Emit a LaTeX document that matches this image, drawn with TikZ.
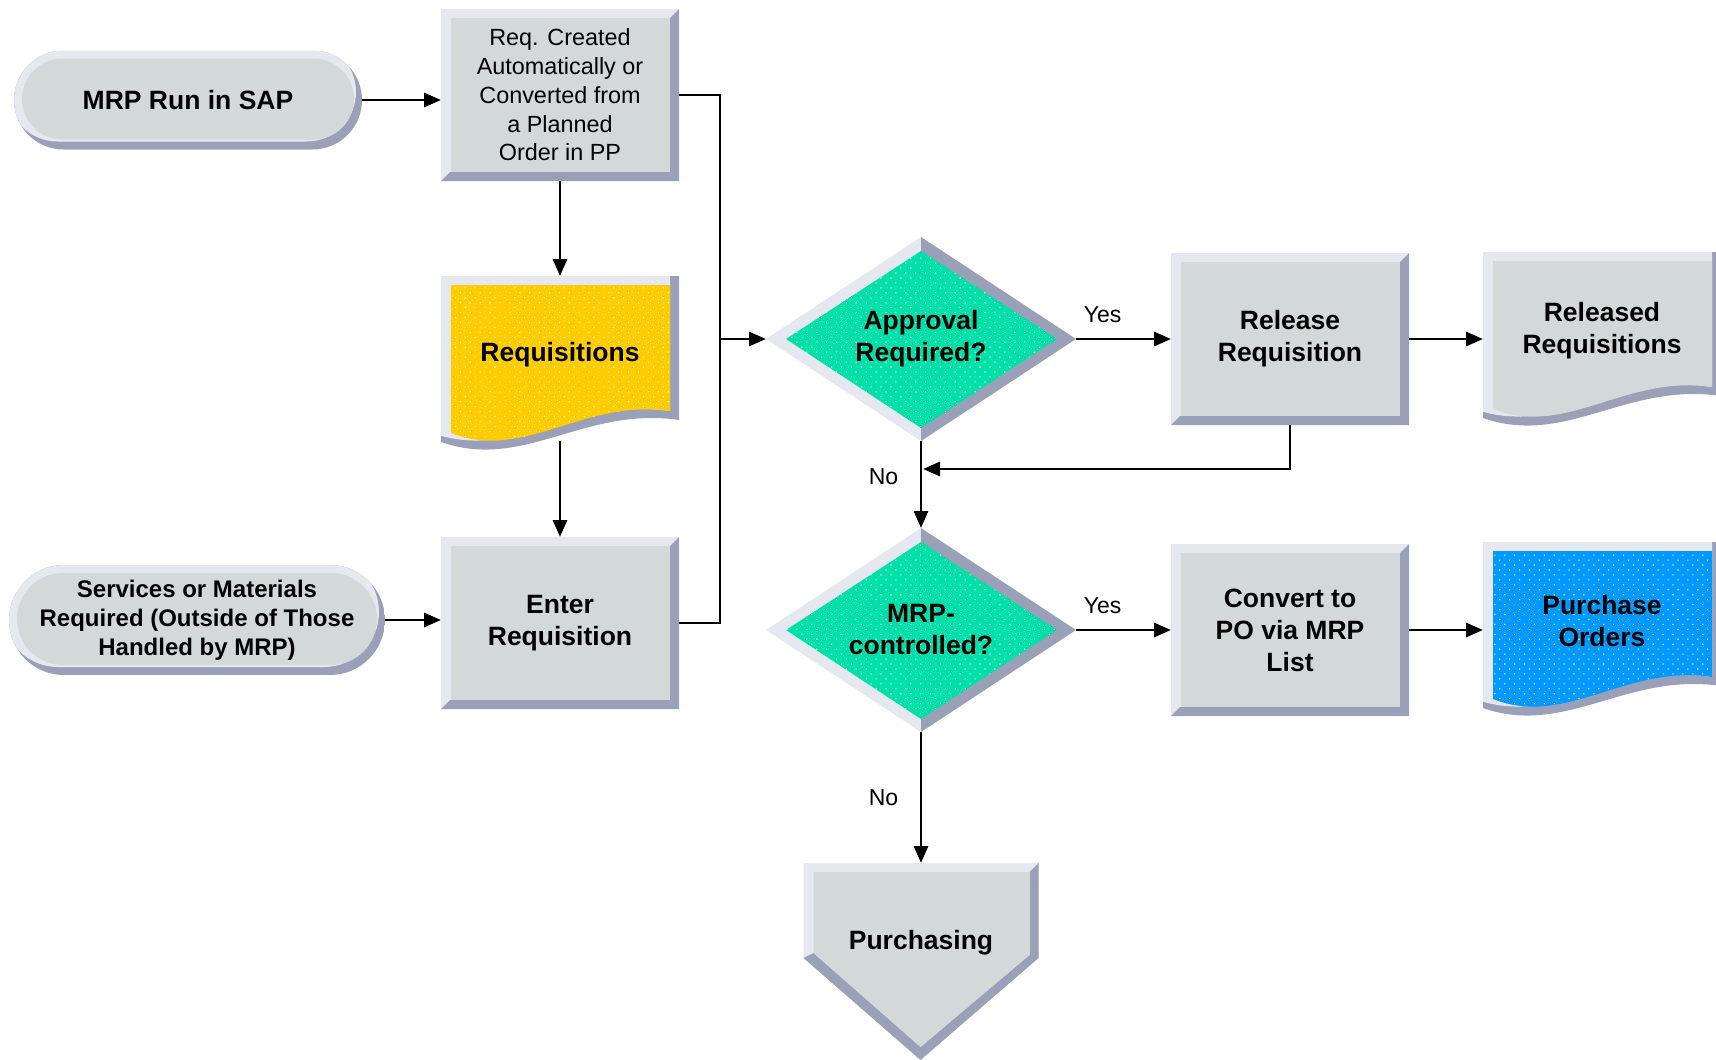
\documentclass[tikz,border=0pt]{standalone}
\usepackage{fontspec}
\setmainfont{Liberation Sans}
\usetikzlibrary{backgrounds,arrows.meta,positioning,patterns.meta}

\definecolor{bvlite}{HTML}{E6E8F0}
\definecolor{bvdark}{HTML}{9AA0B8}
\definecolor{facegray}{HTML}{D3D9D9}
\definecolor{reqyellow}{HTML}{FFCC00}
\definecolor{decgreen}{HTML}{00E0A8}
\definecolor{poblue}{HTML}{0099FF}

\tikzset{
	block/.style={
		rectangle,
		inner sep=0pt, outer sep=0pt,
		align=center,
		text centered,
	},
	box/.style={block, minimum width=238pt, minimum height=172pt},
	docnode/.style={block, minimum width=238pt, minimum height=158pt},
	decision/.style={block, minimum width=310pt, minimum height=204pt},
	greyface/.style={fill=facegray},
	dotface/.style={fill=#1, postaction={pattern={Dots[distance=7pt,angle=45,radius=0.8pt]}, pattern color=white}},
	conn/.style={line width=2.9pt},
	flow/.style={conn, -{Triangle[length=17pt,width=14pt]}},
	lbl/.style={font=\fontsize{23}{28}\selectfont},
	docpath/.style={insert path={(0,0) -- (238,0) -- (238,144) .. controls (143,130) and (83,195) .. (0,166) -- cycle}},
}

% bevelled shapes, drawn round the named nodes
\newcommand{\bevelbox}[4]{%
	\begin{scope}[shift={(#1.north west)}]
		\fill[bvlite] (0,0) rectangle (#2,#3);
		\fill[bvdark] (#2,0) -- (#2,#3) -- (0,#3) -- (9,#3-9) -- (#2-9,#3-9) -- (#2-9,9) -- cycle;
		\fill[#4] (10,9) rectangle (#2-9,#3-9);
	\end{scope}}
\newcommand{\bevelpill}[3]{%
	\begin{scope}[shift={(#1.north west)}]
		\begin{scope}
			\clip[rounded corners=#3/2] (0,0) rectangle (#2,#3);
			\fill[bvdark] (0,0) rectangle (#2,#3);
			\fill[bvlite, rounded corners=#3/2] (-6,-8) rectangle (#2-6,#3-8);
		\end{scope}
		\fill[greyface, rounded corners=#3/2-9] (8,8) rectangle (#2-8,#3-10);
	\end{scope}}
\newcommand{\beveldoc}[2]{%
	\begin{scope}[shift={(#1.north west)}]
		\begin{scope}
			\clip[docpath];
			\fill[bvdark, docpath];
			\fill[bvlite, shift={(-9,-9)}, docpath];
		\end{scope}
		\fill[#2] (10,9) -- (229,9) -- (229,135) .. controls (143,122) and (83,186) .. (10,157) -- cycle;
	\end{scope}}
\newcommand{\beveldia}[2]{%
	\begin{scope}[shift={(#1.north west)}]
		\fill[bvlite] (0,102) -- (155,0) -- (155,204) -- cycle;
		\fill[bvdark] (155,0) -- (310,102) -- (155,204) -- cycle;
		\fill[#2] (155,14) -- (291,102) -- (155,191) -- (20,102) -- cycle;
	\end{scope}}
\newcommand{\bevelpent}[2]{%
	\begin{scope}[shift={(#1.north west)}]
		\fill[bvlite] (0,0) -- (235,0) -- (235,95) -- (117,197) -- (0,95) -- cycle;
		\fill[bvdark] (235,0) -- (235,95) -- (117,197) -- (0,95) -- (10,90) -- (117,184) -- (226,92) -- (226,9) -- cycle;
		\fill[#2] (10,9) -- (226,9) -- (226,92) -- (117,184) -- (10,90) -- cycle;
	\end{scope}}

\begin{document}
\begin{tikzpicture}[x=1pt, y=-1pt, font=\fontsize{26.5}{32}\selectfont\bfseries]
\useasboundingbox (0,0) rectangle (1716,1060);

\node	(mrp)		[block, minimum width=348pt, minimum height=99pt]	at (188,100)	{MRP Run in SAP};
\node	(req)		[box, font=\fontsize{23.4}{28.7}\selectfont]	at (560,95)	{Req. Created\\Automatically or\\Converted from\\a Planned\\Order in PP};
\node	(reqs)		[docnode]	[below=95pt of req]	{Requisitions};
\node	(enter)		[box]	[below=103pt of reqs]	{Enter\\Requisition};
\node	(serv)		[block, minimum width=376pt, minimum height=110pt, font=\fontsize{24}{29}\selectfont\bfseries]	at (197,620)	{Services or Materials\\Required (Outside of Those\\Handled by MRP)};
\node	(appr)		[decision]	at (921,339)	{Approval\\Required?};
\node	(rel)		[box]	[right=95pt of appr]	{Release\\Requisition};
\node	(relreqs)	[docnode]	at (1602,331)	{Released\\Requisitions};
\node	(mrpc)		[decision]	[below=87pt of appr]	{MRP-\\controlled?};
\node	(conv)		[box]	[right=95pt of mrpc]	{Convert to\\PO via MRP\\List};
\node	(po)		[docnode]	at (1602,621)	{Purchase\\Orders};
\node	(purch)		[block, minimum width=235pt, minimum height=160pt]	[below=131pt of mrpc]	{Purchasing};

\coordinate	(bus)		at (720,339);
\coordinate	(merge)		at (923,469);
\coordinate	(reqsbot)	at (560,441);

\path[flow] (mrp.east) edge (mrp.east -| req.west);
\path[flow] (req) edge (reqs);
\path[flow] (reqsbot) edge (enter);
\path[flow] (serv.east) edge (serv.east -| enter.west);
\draw[conn] (req.east) -| (bus) |- (enter.east);
\path[flow] (bus) edge (appr.west);
\path[flow] (appr.east) edge node[lbl, above=11pt, pos=0.28] {Yes} (rel.west);
\path[flow] (rel.east) edge (rel.east -| relreqs.west);
\draw[flow] (rel.south) |- (merge);
\path[flow] (appr.south) edge node[lbl, left=18pt, pos=0.41] {No} (mrpc.north);
\path[flow] (mrpc.east) edge node[lbl, above=11pt, pos=0.28] {Yes} (conv.west);
\path[flow] (conv.east) edge (conv.east -| po.west);
\path[flow] (mrpc.south) edge node[lbl, left=18pt, pos=0.5] {No} (purch.north);

\begin{scope}[on background layer]
\bevelpill{mrp}{348}{99}
\bevelpill{serv}{376}{110}
\bevelbox{req}{238}{172}{greyface}
\beveldoc{reqs}{dotface=reqyellow}
\bevelbox{enter}{238}{172}{greyface}
\beveldia{appr}{dotface=decgreen}
\bevelbox{rel}{238}{172}{greyface}
\beveldoc{relreqs}{greyface}
\beveldia{mrpc}{dotface=decgreen}
\bevelbox{conv}{238}{172}{greyface}
\beveldoc{po}{dotface=poblue}
\bevelpent{purch}{greyface}
\end{scope}

\end{tikzpicture}
\end{document}
